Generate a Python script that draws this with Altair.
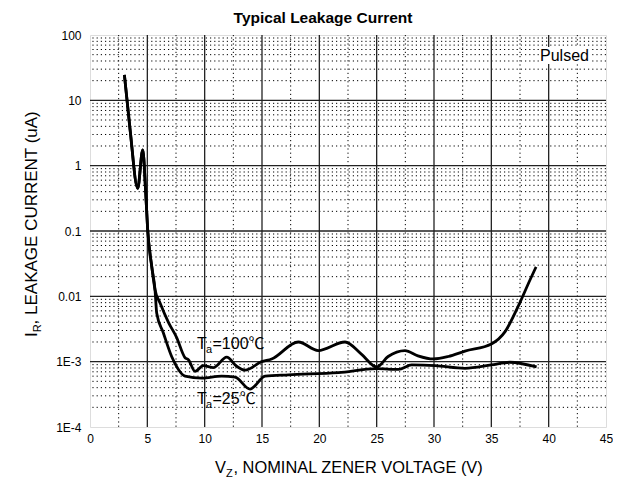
import altair as alt
import pandas as pd

FONT = "Liberation Sans, Arial, 'Noto Sans CJK SC', sans-serif"

# steep section common to both curves
shared_x = [3.0, 3.5, 4.16, 4.6, 4.86, 5.03, 5.38, 5.67]
shared_y = [24.5, 3.5, 0.45, 1.74, 0.38, 0.105, 0.029, 0.0126]

# Ta = 100 C
t100_x = [6.11, 6.84, 7.56, 8.29, 8.58, 9.16, 9.89, 10.76, 11.92, 12.79, 13.52, 14.97,
          15.84, 18.17, 19.9, 22.24, 23.69, 25.0, 26.0, 27.47, 28.6, 29.94, 31.25,
          32.7, 35.0, 36.2, 37.35, 38.37, 38.9]
t100_y = [0.0079, 0.0040, 0.00234, 0.00115, 0.00107, 0.00071, 0.00087, 0.00081, 0.00117,
          0.00085, 0.00074, 0.00100, 0.00110, 0.00200, 0.00148, 0.00200, 0.00129, 0.00083,
          0.00120, 0.00148, 0.00123, 0.00110, 0.00120, 0.00145, 0.00186, 0.00288, 0.0071,
          0.0178, 0.0282]

# Ta = 25 C
t25_x = [5.82, 6.4, 7.12, 7.71, 8.29, 9.74, 11.48, 12.65, 13.96, 15.27, 17.3, 21.66,
         25.0, 26.9, 28.05, 30.1, 32.7, 35.0, 36.6, 38.95]
t25_y = [0.0055, 0.00275, 0.00120, 0.00076, 0.00060, 0.00056, 0.00060, 0.00058, 0.00038,
         0.00060, 0.00063, 0.00068, 0.00078, 0.00076, 0.00089, 0.00087, 0.00079, 0.00089,
         0.00098, 0.00083]

x_ticks = [0, 5, 10, 15, 20, 25, 30, 35, 40, 45]
y_ticks = [1e-4, 1e-3, 0.01, 0.1, 1, 10, 100]
y_tick_labels = ["1E-4", "1E-3", "0.01", "0.1", "1", "10", "100"]

x_major_grid = [5, 10, 15, 20, 25, 30, 35, 40]
x_minor_grid = [2.5, 7.5, 12.5, 17.5, 22.5, 27.5, 32.5, 37.5, 42.5]
y_major_grid = [1e-3, 0.01, 0.1, 1, 10]
y_minor_grid = [k * d for d in [1e-4, 1e-3, 0.01, 0.1, 1, 10] for k in range(2, 10)]

rows = []
for s, xs_, ys_ in [("100", shared_x + t100_x, shared_y + t100_y),
                    ("25", shared_x + t25_x, shared_y + t25_y)]:
    for i, (a, b) in enumerate(zip(xs_, ys_)):
        rows.append({"series": s, "x": a, "y": b, "i": i})
curves = pd.DataFrame(rows)

W, H = 516, 392
xs = alt.Scale(domain=[0, 45], nice=False, zero=False)
ys = alt.Scale(type="log", domain=[1e-4, 100], nice=False)

label_expr = "[" + ",".join("'%s'" % l for l in y_tick_labels) + "][round(log(datum.value)/LN10)+4]"

xaxis = alt.Axis(values=x_ticks, title=None, grid=False, ticks=False, domain=False,
                 labelFlush=False, labelOverlap=False, labelPadding=6,
                 labelFont=FONT, labelFontSize=12, labelColor="black")
yaxis = alt.Axis(values=y_ticks, title=None, grid=False, ticks=False, domain=False,
                 labelFlush=False, labelOverlap=False, labelPadding=9, labelExpr=label_expr,
                 labelFont=FONT, labelFontSize=12, labelColor="black")

def vrules(vals, **kw):
    return alt.Chart(pd.DataFrame({"x": vals})).mark_rule(**kw).encode(
        x=alt.X("x:Q", scale=xs, axis=xaxis))

def hrules(vals, **kw):
    return alt.Chart(pd.DataFrame({"y": vals})).mark_rule(**kw).encode(
        y=alt.Y("y:Q", scale=ys, axis=yaxis))

minor_style = dict(color="black", strokeWidth=1, strokeDash=[1.2, 3])
major_style = dict(color="#222222", strokeWidth=1.3)

grid = [
    hrules(y_minor_grid, **minor_style),
    vrules(x_minor_grid, **minor_style),
    hrules(y_major_grid, **major_style),
    vrules(x_major_grid, **major_style),
]

lines = alt.Chart(curves).mark_line(color="black", strokeWidth=2.8, interpolate="monotone").encode(
    x=alt.X("x:Q", scale=xs, axis=xaxis),
    y=alt.Y("y:Q", scale=ys, axis=yaxis),
    detail="series:N",
    order="i:Q",
)

one = alt.Data(values=[{}])

def txt(s, x, y, size, align="left", baseline="alphabetic", angle=0, weight="normal"):
    return alt.Chart(one).mark_text(text=s, font=FONT, fontSize=size, align=align,
                                    baseline=baseline, angle=angle, fontWeight=weight,
                                    color="black").encode(x=alt.value(x), y=alt.value(y))

box = alt.Chart(one).mark_rect(color="white").encode(
    x=alt.value(449), x2=alt.value(501), y=alt.value(12), y2=alt.value(29))

texts = [
    txt("Typical Leakage Current", 233, -17, 15.5, align="center", baseline="middle", weight="bold"),
    # x title with subscript
    txt("V", 125, 438, 16.4),
    txt("Z", 136, 442, 11),
    txt(", NOMINAL ZENER VOLTAGE (V)", 143.5, 438, 16.4),
    # y title with subscript (rotated)
    txt("I", -53, 302, 17, angle=270),
    txt("R", -49, 297.3, 11, angle=270),
    txt(", LEAKAGE CURRENT (uA)", -53, 289.4, 17, angle=270),
    # annotations
    txt("T", 107, 314, 16),
    txt("a", 116, 318, 11),
    txt("=100\u2103", 122.5, 314, 16),
    txt("T", 107, 369, 16),
    txt("a", 116, 373, 11),
    txt("=25\u2103", 122.5, 369, 16),
    txt("Pulsed", 450, 20.5, 16, baseline="middle"),
]

chart = alt.layer(*grid, lines, box, *texts).properties(
    width=W, height=H,
    autosize=alt.AutoSizeParams(type="none"),
    padding={"left": 82, "top": 27, "right": 7, "bottom": 52},
).configure_view(stroke="black", strokeWidth=1.2).configure(background="white")

chart.save("out.html", embed_options={"renderer": "svg", "actions": False})
